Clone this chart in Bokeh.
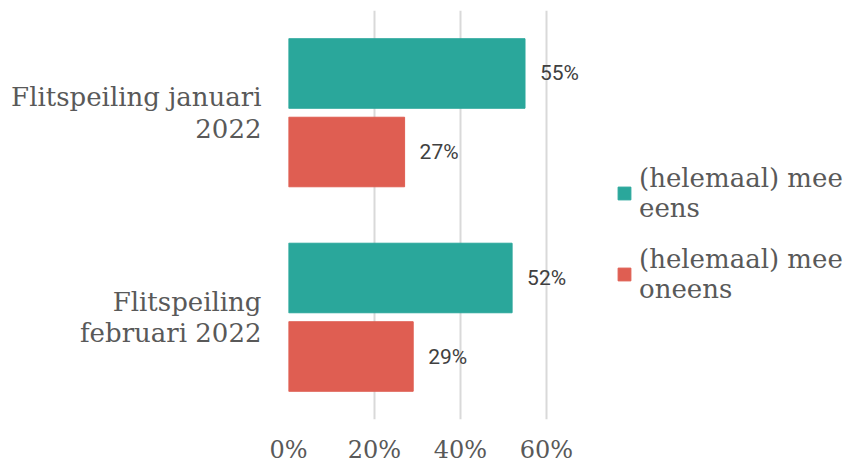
from bokeh.plotting import figure
from bokeh.models import FactorRange, Range1d, FixedTicker, Legend, LegendItem, ColumnDataSource
from bokeh.transform import dodge
from bokeh.core.properties import value
from bokeh.embed import file_html
from bokeh.resources import INLINE

categories = ["Flitspeiling januari\n2022", "Flitspeiling\nfebruari 2022"]
series_names = ["(helemaal) mee\neens", "(helemaal) mee\noneens"]
mee_eens = [0.55, 0.52]
mee_oneens = [0.27, 0.29]
x_ticks = [0, 0.2, 0.4, 0.6]
x_tick_labels = ["0%", "20%", "40%", "60%"]
colors = ["#2AA79B", "#DF5E52"]

src = ColumnDataSource(dict(
    cat=categories,
    eens=mee_eens,
    oneens=mee_oneens,
    eens_lbl=[f"{round(v*100)}%" for v in mee_eens],
    oneens_lbl=[f"{round(v*100)}%" for v in mee_oneens],
))

p = figure(width=848, height=466,
           y_range=FactorRange(*reversed(categories)),
           x_range=Range1d(0, 1.3023),
           output_backend="svg", toolbar_location=None,
           min_border_left=288, min_border_right=0,
           min_border_top=10, min_border_bottom=44)

off = 0.192
h = 0.34
r1 = p.hbar(y=dodge("cat", off, range=p.y_range), left=0, right="eens", height=h,
            source=src, fill_color=colors[0], line_color=colors[0])
r2 = p.hbar(y=dodge("cat", -off, range=p.y_range), left=0, right="oneens", height=h,
            source=src, fill_color=colors[1], line_color=colors[1])

for col, lbl, o in (("eens", "eens_lbl", off), ("oneens", "oneens_lbl", -off)):
    p.text(x=col, y=dodge("cat", o, range=p.y_range), text=lbl, source=src,
           x_offset=15, text_baseline="middle", text_align="left",
           text_font=value("Roboto"), text_font_size="21px", text_color="#404040")

p.xaxis.ticker = FixedTicker(ticks=x_ticks)
p.xaxis.major_label_overrides = dict(zip(x_ticks, x_tick_labels))

for ax in (p.xaxis, p.yaxis):
    ax.axis_line_color = None
    ax.major_tick_line_color = None
    ax.minor_tick_line_color = None
    ax.major_tick_out = 0
    ax.major_tick_in = 0
    ax.minor_tick_out = 0
    ax.minor_tick_in = 0
    ax.major_label_text_font = "DejaVu Serif"
    ax.major_label_text_color = "#595959"
p.xaxis.major_label_text_font_size = "24px"
p.xaxis.major_label_standoff = 16
p.yaxis.major_label_text_font_size = "26px"
p.yaxis.major_label_standoff = 27
p.yaxis.major_label_text_line_height = 1.05

p.ygrid.visible = False
p.xgrid.grid_line_color = "#D9D9D9"
p.xgrid.grid_line_width = 2
p.outline_line_color = None

legend = Legend(items=[LegendItem(label=series_names[0], renderers=[r1]),
                       LegendItem(label=series_names[1], renderers=[r2])],
                location=(328, 115), glyph_width=16, glyph_height=16,
                label_text_font="DejaVu Serif", label_text_font_size="26px",
                label_text_color="#595959", label_standoff=7, padding=0,
                margin=0, spacing=21, border_line_color=None,
                background_fill_alpha=0)
p.add_layout(legend, "center")

open("out.html", "w").write(file_html(p, INLINE))
